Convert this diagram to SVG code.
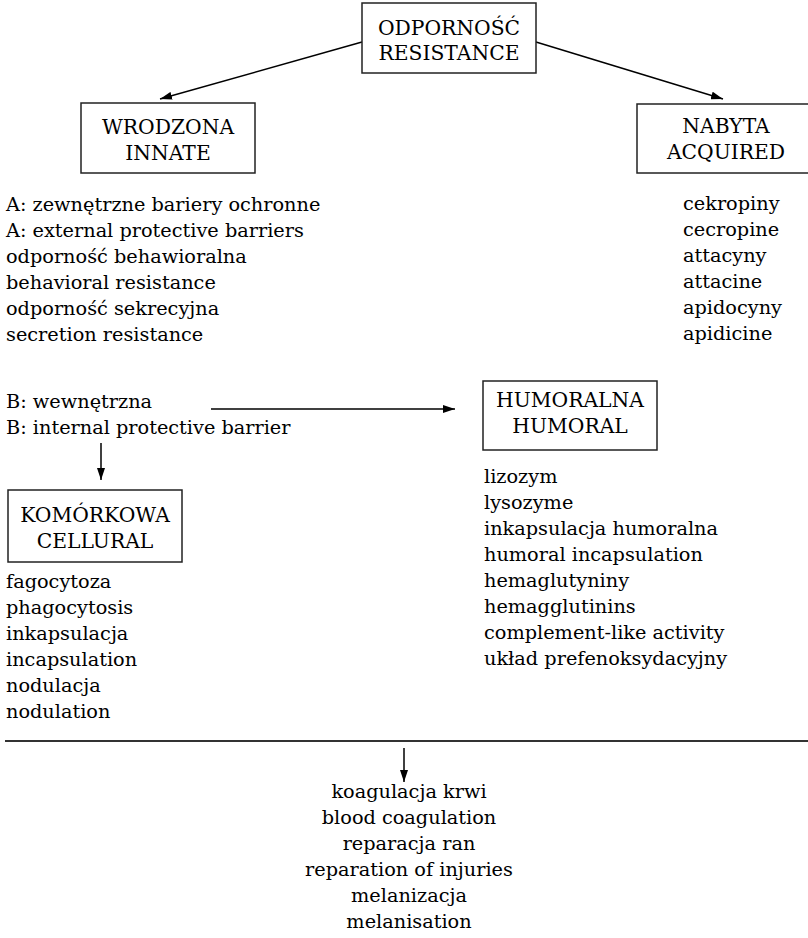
<svg xmlns="http://www.w3.org/2000/svg" width="808" height="938" viewBox="0 0 808 938">
<defs>
<marker id="ah" viewBox="0 0 12 8" refX="12" refY="4" markerWidth="12" markerHeight="8" markerUnits="userSpaceOnUse" orient="auto">
<path d="M0,0 L12,4 L0,8 Z" fill="#000"/>
</marker>
</defs>
<style>
text{font-family:"DejaVu Serif","Liberation Serif",serif;font-size:19.3px;fill:#000}
.c{text-anchor:middle}
.t{font-size:20.3px}
.box{fill:#fff;stroke:#222;stroke-width:1.5}
.ln{stroke:#000;stroke-width:1.5;fill:none}
</style>
<rect width="808" height="938" fill="#fff"/>
<g id="connectors">
<line class="ln" x1="362" y1="42" x2="160" y2="99" marker-end="url(#ah)"/>
<line class="ln" x1="536" y1="42" x2="723" y2="99" marker-end="url(#ah)"/>
<line class="ln" x1="211" y1="409" x2="455" y2="409" marker-end="url(#ah)"/>
<line class="ln" x1="101" y1="443" x2="101" y2="480" marker-end="url(#ah)"/>
<line x1="5" y1="741" x2="808" y2="741" stroke="#333" stroke-width="2"/>
<line class="ln" x1="404" y1="748" x2="404" y2="782" marker-end="url(#ah)"/>
</g>
<g id="odpornosc">
<rect class="box" x="362" y="3" width="174" height="70"/>
<text class="c t" x="449" y="35">ODPORNOŚĆ</text>
<text class="c t" x="449" y="60">RESISTANCE</text>
</g>
<g id="wrodzona">
<rect class="box" x="81" y="103" width="174" height="70"/>
<text class="c t" x="168" y="134">WRODZONA</text>
<text class="c t" x="168" y="160">INNATE</text>
</g>
<g id="nabyta">
<rect class="box" x="637" y="104" width="174" height="69"/>
<text class="c t" x="726" y="133">NABYTA</text>
<text class="c t" x="726" y="159">ACQUIRED</text>
</g>
<g id="innate-list">
<text x="6" y="211">A: zewnętrzne bariery ochronne</text>
<text x="6" y="237">A: external protective barriers</text>
<text x="6" y="263">odporność behawioralna</text>
<text x="6" y="289">behavioral resistance</text>
<text x="6" y="315">odporność sekrecyjna</text>
<text x="6" y="341">secretion resistance</text>
</g>
<g id="acquired-list">
<text x="683" y="210">cekropiny</text>
<text x="683" y="236">cecropine</text>
<text x="683" y="262">attacyny</text>
<text x="683" y="288">attacine</text>
<text x="683" y="314">apidocyny</text>
<text x="683" y="340">apidicine</text>
</g>
<g id="internal">
<text x="6" y="408">B: wewnętrzna</text>
<text x="6" y="434">B: internal protective barrier</text>
</g>
<g id="humoralna">
<rect class="box" x="483" y="381" width="174" height="69"/>
<text class="c t" x="570" y="407">HUMORALNA</text>
<text class="c t" x="570" y="433">HUMORAL</text>
</g>
<g id="humoral-list">
<text x="484" y="483">lizozym</text>
<text x="484" y="509">lysozyme</text>
<text x="484" y="535">inkapsulacja humoralna</text>
<text x="484" y="561">humoral incapsulation</text>
<text x="484" y="587">hemaglutyniny</text>
<text x="484" y="613">hemagglutinins</text>
<text x="484" y="639">complement-like activity</text>
<text x="484" y="665">układ prefenoksydacyjny</text>
</g>
<g id="komorkowa">
<rect class="box" x="8" y="490" width="174" height="72"/>
<text class="c t" x="95" y="522">KOMÓRKOWA</text>
<text class="c t" x="95" y="548">CELLURAL</text>
</g>
<g id="cellular-list">
<text x="6" y="588">fagocytoza</text>
<text x="6" y="614">phagocytosis</text>
<text x="6" y="640">inkapsulacja</text>
<text x="6" y="666">incapsulation</text>
<text x="6" y="692">nodulacja</text>
<text x="6" y="718">nodulation</text>
</g>
<g id="common-list">
<text class="c" x="409" y="798">koagulacja krwi</text>
<text class="c" x="409" y="824">blood coagulation</text>
<text class="c" x="409" y="850">reparacja ran</text>
<text class="c" x="409" y="876">reparation of injuries</text>
<text class="c" x="409" y="902">melanizacja</text>
<text class="c" x="409" y="928">melanisation</text>
</g>
</svg>
